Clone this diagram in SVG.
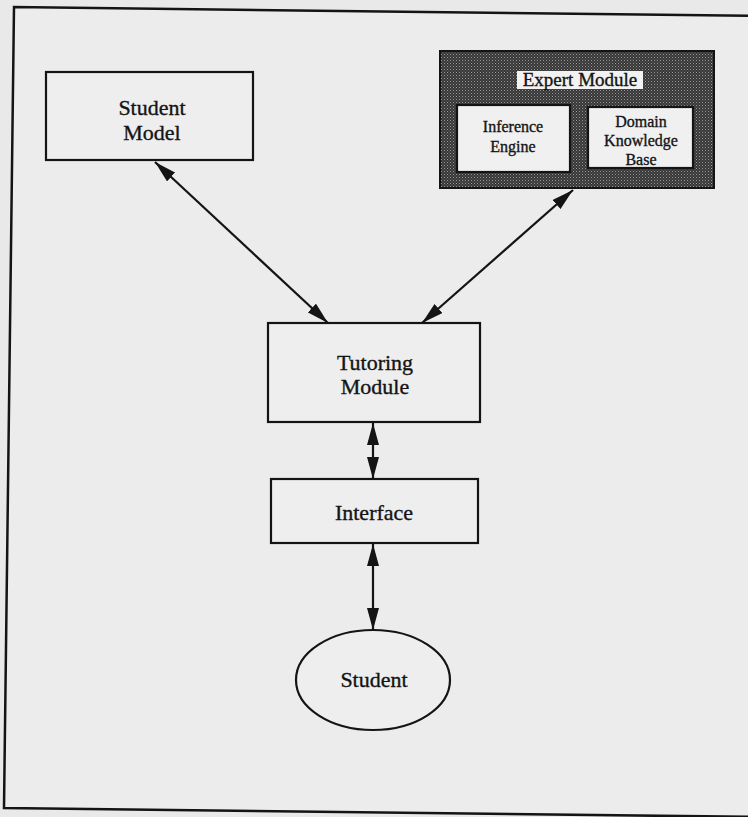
<svg xmlns="http://www.w3.org/2000/svg" width="748" height="817" viewBox="0 0 748 817">
  <style>
    .box { fill: #eeeeee; stroke: #141414; stroke-width: 2.2; }
    .inner { fill: #f0f0f0; stroke: #141414; stroke-width: 2.2; }
    .t { font-family: "Liberation Serif", "Times New Roman", serif; fill: #141414; stroke: #141414; stroke-width: 0.35; text-anchor: middle; }
    .big { font-size: 22px; }
    .small { font-size: 16px; }
    .conn { stroke: #141414; stroke-width: 2.2; fill: none; marker-start: url(#ah); marker-end: url(#ah); }
  </style>
  <defs>
    <pattern id="dither" width="3" height="3" patternUnits="userSpaceOnUse">
      <rect width="3" height="3" fill="#363636"/>
      <rect x="0" y="0" width="1" height="1" fill="#9a9a9a"/>
      <rect x="1.5" y="1.5" width="1" height="1" fill="#777777"/>
    </pattern>
    <marker id="ah" viewBox="0 0 22 12" refX="22" refY="6" markerWidth="22" markerHeight="12" markerUnits="userSpaceOnUse" orient="auto-start-reverse">
      <path d="M0,0 L22,6 L0,12 z" fill="#141414"/>
    </marker>
  </defs>

  <rect width="748" height="817" fill="#e9e9e9"/>
  <path d="M760,16 L14,7 L4,808 L760,817" fill="#ececec" stroke="#141414" stroke-width="2.5"/>

  <g id="connectors">
    <line class="conn" x1="155" y1="162" x2="328" y2="323"/>
    <line class="conn" x1="573" y1="190" x2="422" y2="323"/>
    <line class="conn" x1="373" y1="423" x2="373" y2="479"/>
    <line class="conn" x1="373" y1="544" x2="373" y2="630"/>
  </g>

  <g id="student-model">
    <rect class="box" x="46" y="72" width="207" height="88"/>
    <text class="t big" x="152" y="115">Student</text>
    <text class="t big" x="152" y="140">Model</text>
  </g>

  <g id="expert-module">
    <rect x="440" y="51" width="274" height="137" fill="url(#dither)" stroke="#141414" stroke-width="2"/>
    <rect x="517" y="71" width="126" height="18" fill="#f2f2f2"/>
    <text class="t" style="font-size:19px" x="580" y="86">Expert Module</text>
  </g>

  <g id="inference-engine">
    <rect class="inner" x="457" y="105" width="113" height="67"/>
    <text class="t small" x="513" y="132">Inference</text>
    <text class="t small" x="513" y="152">Engine</text>
  </g>

  <g id="domain-knowledge-base">
    <rect class="inner" x="588" y="107" width="105" height="61"/>
    <text class="t small" x="641" y="127">Domain</text>
    <text class="t small" x="641" y="146">Knowledge</text>
    <text class="t small" x="641" y="165">Base</text>
  </g>

  <g id="tutoring-module">
    <rect class="box" x="268" y="323" width="212" height="99"/>
    <text class="t big" x="375" y="370">Tutoring</text>
    <text class="t big" x="375" y="394">Module</text>
  </g>

  <g id="interface">
    <rect class="box" x="271" y="479" width="207" height="64"/>
    <text class="t big" x="374" y="520">Interface</text>
  </g>

  <g id="student">
    <ellipse class="box" cx="373" cy="680" rx="77" ry="50"/>
    <text class="t big" x="374" y="687">Student</text>
  </g>
</svg>
